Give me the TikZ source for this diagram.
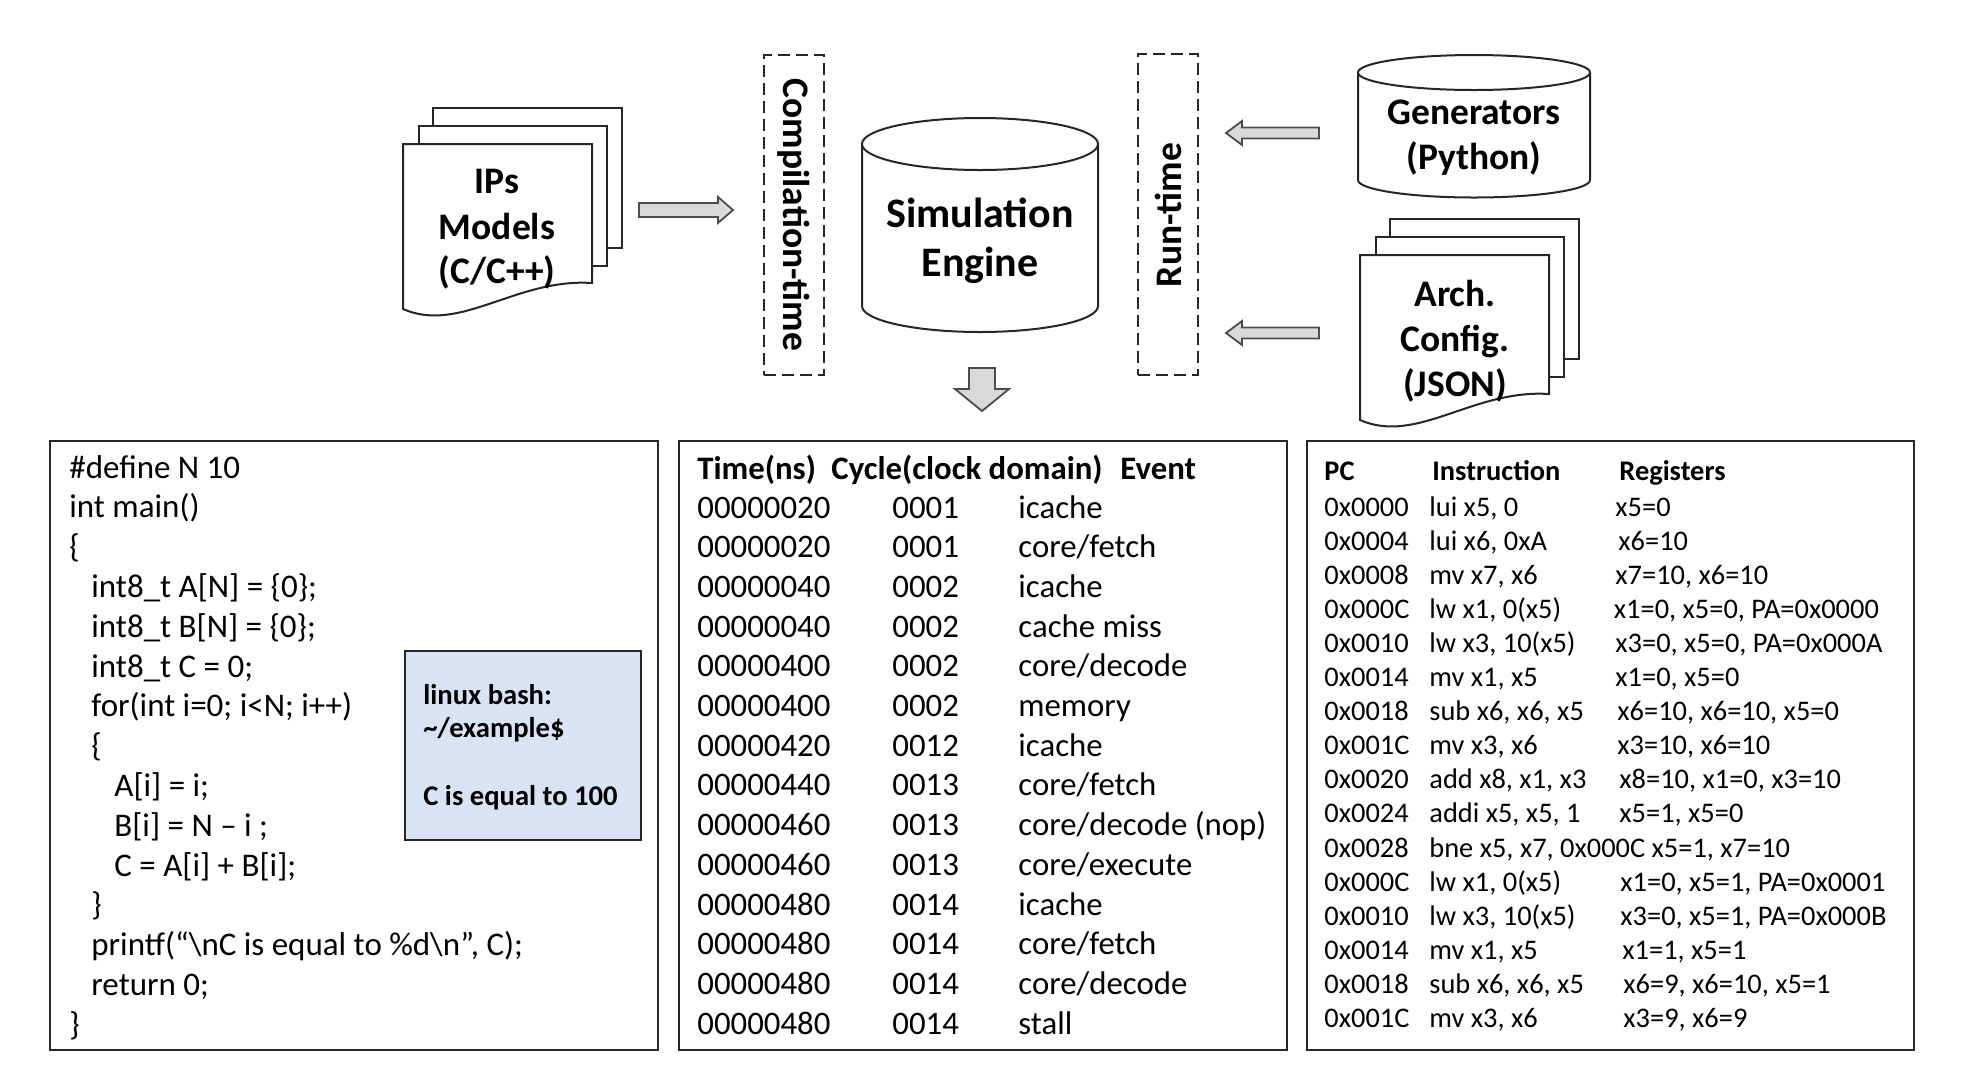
\documentclass[tikz,border=0pt]{standalone}
\usepackage{fontspec}
\setmainfont{Carlito}
\definecolor{bashblue}{HTML}{DAE3F3}
\definecolor{arrowgray}{HTML}{D9D9D9}
\begin{document}
\begin{tikzpicture}[x=0.5pt,y=-0.5pt,
  every node/.style={inner sep=0pt},
  outline/.style={draw=black!85, line width=1pt},
  page/.style={outline, fill=white},
  dashbox/.style={draw=black!85, line width=1pt, dash pattern=on 6pt off 3pt},
  blockarrow/.style={draw=black!70, fill=arrowgray, line width=0.9pt},
  toptext/.style={font=\fontsize{18.75}{22}\selectfont\bfseries, anchor=base},
  bigtext/.style={font=\fontsize{21}{25}\selectfont\bfseries, anchor=base},
  codetext/.style={font=\fontsize{16.5}{20}\selectfont, anchor=base west},
  tracetext/.style={font=\fontsize{16.4}{20}\selectfont, anchor=base west},
  tracehead/.style={font=\fontsize{16.4}{20}\selectfont\bfseries, anchor=base west},
  regtext/.style={font=\fontsize{14.2}{17}\selectfont, anchor=base west},
  reghead/.style={font=\fontsize{14.2}{17}\selectfont\bfseries, anchor=base west},
  bashtext/.style={font=\fontsize{14.3}{17}\selectfont\bfseries, anchor=base west},
]
\useasboundingbox (0,0) rectangle (1971,1083);

% ---------- IPs models stack ----------
\begin{scope}[shift={(403,144)}]
  \draw[page] (30,-36) rectangle (219,104);
  \draw[page] (16,-18) rectangle (204,122);
  \draw[page] (0,0) -- (189,0) -- (189,139) .. controls (113,134) and (57,190) .. (0,165) -- cycle;
\end{scope}
\node[toptext] (ipsA) at (497,193) {IPs};
\node[toptext] (ipsB) at (497,239) {Models};
\node[toptext] (ipsC) at (497,283) {(C/C++)};

% ---------- arrow to compilation ----------
\draw[blockarrow] (639,203) -- (718,203) -- (718,197) -- (733,210) -- (718,223) -- (718,217) -- (639,217) -- cycle;

% ---------- compilation-time ----------
\node[dashbox, minimum width=30pt, minimum height=160pt] (ctbox) at (794,215) {};
\node[font=\fontsize{18.75}{22}\selectfont\bfseries, rotate=-90] (ctlabel) at (794,215) {Compilation-time};

% ---------- simulation engine ----------
\draw[page] (862,144) -- (862,306) arc[start angle=180, end angle=0, x radius=118, y radius=26] -- (1098,144);
\draw[page] (980,144) ellipse [x radius=118, y radius=26];
\node[bigtext] (simA) at (980,227) {Simulation};
\node[bigtext] (simB) at (980,276) {Engine};

% ---------- run-time ----------
\node[dashbox, minimum width=30pt, minimum height=160.5pt] (rtbox) at (1168,214.5) {};
\node[font=\fontsize{18.75}{22}\selectfont\bfseries, rotate=90] (rtlabel) at (1168,215) {Run-time};

% ---------- arrows from right ----------
\draw[blockarrow] (1319,127.5) -- (1242,127.5) -- (1242,121) -- (1226,133) -- (1242,145) -- (1242,138.5) -- (1319,138.5) -- cycle;
\draw[blockarrow] (1319,327.5) -- (1242,327.5) -- (1242,321) -- (1226,333) -- (1242,345) -- (1242,338.5) -- (1319,338.5) -- cycle;

% ---------- generators ----------
\draw[page] (1358,72.5) -- (1358,180) arc[start angle=180, end angle=0, x radius=116, y radius=17.5] -- (1590,72.5);
\draw[page] (1474,72.5) ellipse [x radius=116, y radius=17.5];
\node[toptext] (genA) at (1474,124) {Generators};
\node[toptext] (genB) at (1474,169) {(Python)};

% ---------- arch config stack ----------
\begin{scope}[shift={(1360,255)}]
  \draw[page] (30,-36) rectangle (219,104);
  \draw[page] (16,-18) rectangle (204,122);
  \draw[page] (0,0) -- (189,0) -- (189,139) .. controls (113,134) and (57,190) .. (0,165) -- cycle;
\end{scope}
\node[toptext] (archA) at (1455,306) {Arch.};
\node[toptext] (archB) at (1455,351) {Config.};
\node[toptext] (archC) at (1455,396) {(JSON)};

% ---------- down arrow ----------
\draw[blockarrow] (969,368) -- (995,368) -- (995,389) -- (1009,389) -- (982,411) -- (955,389) -- (969,389) -- cycle;

% ---------- panels ----------
\draw[outline] (50,441) rectangle (658,1050);
\draw[outline] (679,441) rectangle (1287,1050);
\draw[outline] (1307,441) rectangle (1914,1050);

% ---------- code ----------
\node[codetext] (c1) at (69,478) {\#define N 10};
\node[codetext] (c2) at (69,517.8) {int main()};
\node[codetext] (c3) at (69,557.6) {\{};
\node[codetext] (c4) at (91,597.4) {int8\_t A[N] = \{0\};};
\node[codetext] (c5) at (91,637.2) {int8\_t B[N] = \{0\};};
\node[codetext] (c6) at (91,677) {int8\_t C = 0;};
\node[codetext] (c7) at (91,716.8) {for(int i=0; i<N; i++)};
\node[codetext] (c8) at (91,756.6) {\{};
\node[codetext] (c9) at (114,796.4) {A[i] = i;};
\node[codetext] (c10) at (114,836.2) {B[i] = N – i ;};
\node[codetext] (c11) at (114,876) {C = A[i] + B[i];};
\node[codetext] (c12) at (91,915.8) {\}};
\node[codetext] (c13) at (91,955.6) {printf(“\textbackslash nC is equal to \%d\textbackslash n”, C);};
\node[codetext] (c14) at (91,995.4) {return 0;};
\node[codetext] (c15) at (69,1035.2) {\}};

% ---------- bash box ----------
\draw[outline, fill=bashblue] (405,651) rectangle (641,840);
\node[bashtext] (b1) at (423,704) {linux bash:};
\node[bashtext] (b2) at (423,737) {\textasciitilde/example\$};
\node[bashtext] (b3) at (423,805) {C is equal to 100};

% ---------- trace ----------
\node[tracehead] (th1) at (697,479) {Time(ns)};
\node[tracehead] (th2) at (831,479) {Cycle(clock domain)};
\node[tracehead] (th3) at (1120,479) {Event};
\newcommand\trow[3]{\makebox[97.5pt][l]{#1}\makebox[63pt][l]{#2}#3}
\node[tracetext] (t1) at (697,518) {\trow{00000020}{0001}{icache}};
\node[tracetext] (t2) at (697,557.7) {\trow{00000020}{0001}{core/fetch}};
\node[tracetext] (t3) at (697,597.4) {\trow{00000040}{0002}{icache}};
\node[tracetext] (t4) at (697,637.1) {\trow{00000040}{0002}{cache miss}};
\node[tracetext] (t5) at (697,676.8) {\trow{00000400}{0002}{core/decode}};
\node[tracetext] (t6) at (697,716.5) {\trow{00000400}{0002}{memory}};
\node[tracetext] (t7) at (697,756.2) {\trow{00000420}{0012}{icache}};
\node[tracetext] (t8) at (697,795.9) {\trow{00000440}{0013}{core/fetch}};
\node[tracetext] (t9) at (697,835.6) {\trow{00000460}{0013}{core/decode (nop)}};
\node[tracetext] (t10) at (697,875.3) {\trow{00000460}{0013}{core/execute}};
\node[tracetext] (t11) at (697,915) {\trow{00000480}{0014}{icache}};
\node[tracetext] (t12) at (697,954.7) {\trow{00000480}{0014}{core/fetch}};
\node[tracetext] (t13) at (697,994.4) {\trow{00000480}{0014}{core/decode}};
\node[tracetext] (t14) at (697,1034.1) {\trow{00000480}{0014}{stall}};

% ---------- registers ----------
\node[reghead] (rh1) at (1324,480.6) {PC};
\node[reghead] (rh2) at (1432,480.6) {Instruction};
\node[reghead] (rh3) at (1619,480.6) {Registers};
\newcommand\prow[2]{\makebox[52.5pt][l]{#1}#2}
\node[regtext] (p1) at (1324,516) {\prow{0x0000}{lui x5, 0}};
\node[regtext] (r1) at (1615,516) {x5=0};
\node[regtext] (p2) at (1324,550.1) {\prow{0x0004}{lui x6, 0xA}};
\node[regtext] (r2) at (1618,550.1) {x6=10};
\node[regtext] (p3) at (1324,584.2) {\prow{0x0008}{mv x7, x6}};
\node[regtext] (r3) at (1615,584.2) {x7=10, x6=10};
\node[regtext] (p4) at (1324,618.3) {\prow{0x000C}{lw x1, 0(x5)}};
\node[regtext] (r4) at (1613.5,618.3) {x1=0, x5=0, PA=0x0000};
\node[regtext] (p5) at (1324,652.4) {\prow{0x0010}{lw x3, 10(x5)}};
\node[regtext] (r5) at (1615,652.4) {x3=0, x5=0, PA=0x000A};
\node[regtext] (p6) at (1324,686.5) {\prow{0x0014}{mv x1, x5}};
\node[regtext] (r6) at (1615,686.5) {x1=0, x5=0};
\node[regtext] (p7) at (1324,720.6) {\prow{0x0018}{sub x6, x6, x5}};
\node[regtext] (r7) at (1617,720.6) {x6=10, x6=10, x5=0};
\node[regtext] (p8) at (1324,754.7) {\prow{0x001C}{mv x3, x6}};
\node[regtext] (r8) at (1617,754.7) {x3=10, x6=10};
\node[regtext] (p9) at (1324,788.8) {\prow{0x0020}{add x8, x1, x3}};
\node[regtext] (r9) at (1619,788.8) {x8=10, x1=0, x3=10};
\node[regtext] (p10) at (1324,822.9) {\prow{0x0024}{addi x5, x5, 1}};
\node[regtext] (r10) at (1619,822.9) {x5=1, x5=0};
\node[regtext] (p11) at (1324,857) {\prow{0x0028}{bne x5, x7, 0x000C x5=1, x7=10}};
\node[regtext] (p12) at (1324,891.1) {\prow{0x000C}{lw x1, 0(x5)}};
\node[regtext] (r12) at (1620,891.1) {x1=0, x5=1, PA=0x0001};
\node[regtext] (p13) at (1324,925.2) {\prow{0x0010}{lw x3, 10(x5)}};
\node[regtext] (r13) at (1620,925.2) {x3=0, x5=1, PA=0x000B};
\node[regtext] (p14) at (1324,959.3) {\prow{0x0014}{mv x1, x5}};
\node[regtext] (r14) at (1622,959.3) {x1=1, x5=1};
\node[regtext] (p15) at (1324,993.4) {\prow{0x0018}{sub x6, x6, x5}};
\node[regtext] (r15) at (1623,993.4) {x6=9, x6=10, x5=1};
\node[regtext] (p16) at (1324,1027.5) {\prow{0x001C}{mv x3, x6}};
\node[regtext] (r16) at (1623,1027.5) {x3=9, x6=9};
\end{tikzpicture}
\end{document}
